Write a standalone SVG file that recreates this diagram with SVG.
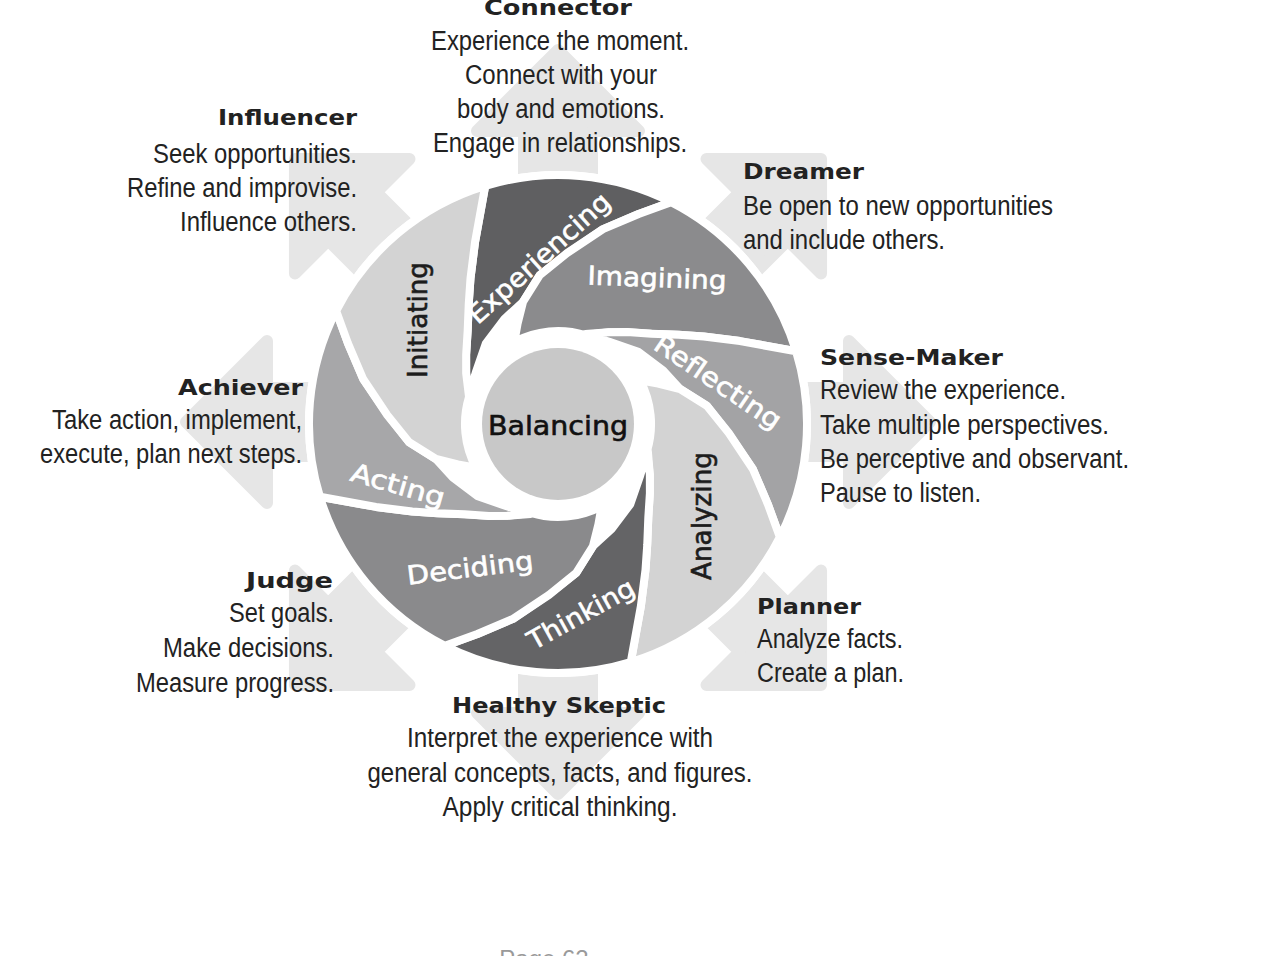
<svg xmlns="http://www.w3.org/2000/svg" xmlns:xlink="http://www.w3.org/1999/xlink" width="1286" height="956" viewBox="0 0 1286 956">
<style>
.arrow{fill:#e6e6e6;stroke:#e6e6e6;stroke-width:12;stroke-linejoin:round}
.blade{stroke:#ffffff;stroke-width:8;stroke-linejoin:round}
.bl{font-family:"DejaVu Sans","Liberation Sans",sans-serif;font-size:26px;text-anchor:middle;stroke-width:0.6}
.w{fill:#ffffff;stroke:#ffffff}
.d{fill:#1c1c1c;stroke:#1c1c1c}
.head{font-family:"DejaVu Sans","Liberation Sans",sans-serif;font-weight:bold;font-size:22px;fill:#222222}
.body{font-family:"Liberation Sans Narrow","Liberation Sans",Arial,sans-serif;font-size:27px;fill:#222222}
.m{text-anchor:middle}
.e{text-anchor:end}
.s{text-anchor:start}
</style>
<defs>
<path id="arrowShape" d="M0,-34 L291,-34 L291,-81 L372,0 L291,81 L291,34 L0,34 Z"/>
<path id="bladeA" d="M94,0 L102.7,21.8 L108.1,39.3 L113.7,63 L120.6,89.2 L126.3,113.8 L132.5,149.8 L139.2,206.4 A249,249 0 0 1 -43.3,245.3 L-15.7,224.4 L13.9,199.5 L40.6,166 L61,137 L69.2,106.5 L82,84.9 L92.6,55.6 L93.7,25.1 L93.6,8.2 Z"/>
<path id="bladeB" d="M93,0 L107.4,11.3 L124.2,26.4 L140,53.8 L146.6,88.1 L150.9,131.2 L147.6,169.8 L142.8,204 A249,249 0 0 1 -47.5,244.4 L-12.2,199.6 L8.8,169.8 L22.2,148.3 L35.9,124.9 L48.6,104.2 L57.2,88 L65.8,65.8 A93,93 0 0 0 93,0 Z"/>
</defs>
<rect width="1286" height="956" fill="#ffffff"/>
<g id="arrows">
<use xlink:href="#arrowShape" class="arrow" transform="translate(558,422) rotate(0)"/>
<use xlink:href="#arrowShape" class="arrow" transform="translate(558,422) rotate(45)"/>
<use xlink:href="#arrowShape" class="arrow" transform="translate(558,422) rotate(90)"/>
<use xlink:href="#arrowShape" class="arrow" transform="translate(558,422) rotate(135)"/>
<use xlink:href="#arrowShape" class="arrow" transform="translate(558,422) rotate(180)"/>
<use xlink:href="#arrowShape" class="arrow" transform="translate(558,422) rotate(225)"/>
<use xlink:href="#arrowShape" class="arrow" transform="translate(558,422) rotate(270)"/>
<use xlink:href="#arrowShape" class="arrow" transform="translate(558,422) rotate(315)"/>
</g>
<circle cx="558" cy="424" r="253" fill="#ffffff"/>
<g id="node-experiencing">
<use xlink:href="#bladeA" class="blade" fill="#5f5f61" transform="translate(558,424) rotate(197)"/>
<text class="bl w" transform="translate(539,258) rotate(-42)" y="9" textLength="181" lengthAdjust="spacingAndGlyphs">Experiencing</text>
</g>
<g id="node-imagining">
<use xlink:href="#bladeB" class="blade" fill="#8b8b8d" transform="translate(558,424) rotate(242)"/>
<text class="bl w" transform="translate(657,278) rotate(2)" y="9" textLength="139" lengthAdjust="spacingAndGlyphs">Imagining</text>
</g>
<g id="node-reflecting">
<use xlink:href="#bladeA" class="blade" fill="#a3a3a5" transform="translate(558,424) rotate(287)"/>
<text class="bl w" transform="translate(718,382) rotate(34)" y="9" textLength="147" lengthAdjust="spacingAndGlyphs">Reflecting</text>
</g>
<g id="node-analyzing">
<use xlink:href="#bladeB" class="blade" fill="#d3d3d3" transform="translate(558,424) rotate(332)"/>
<text class="bl d" transform="translate(702,516) rotate(-90)" y="9" textLength="128" lengthAdjust="spacingAndGlyphs">Analyzing</text>
</g>
<g id="node-thinking">
<use xlink:href="#bladeA" class="blade" fill="#646466" transform="translate(558,424) rotate(17)"/>
<text class="bl w" transform="translate(581,614) rotate(-29)" y="9" textLength="118" lengthAdjust="spacingAndGlyphs">Thinking</text>
</g>
<g id="node-deciding">
<use xlink:href="#bladeB" class="blade" fill="#8a8a8c" transform="translate(558,424) rotate(62)"/>
<text class="bl w" transform="translate(470,568) rotate(-7)" y="9" textLength="127" lengthAdjust="spacingAndGlyphs">Deciding</text>
</g>
<g id="node-acting">
<use xlink:href="#bladeA" class="blade" fill="#a7a7a9" transform="translate(558,424) rotate(107)"/>
<text class="bl w" transform="translate(398,485) rotate(16)" y="9" textLength="97" lengthAdjust="spacingAndGlyphs">Acting</text>
</g>
<g id="node-initiating">
<use xlink:href="#bladeB" class="blade" fill="#d3d3d3" transform="translate(558,424) rotate(152)"/>
<text class="bl d" transform="translate(418,320) rotate(-90)" y="9" textLength="116" lengthAdjust="spacingAndGlyphs">Initiating</text>
</g>
<g id="node-balancing">
<circle cx="558" cy="424" r="76" fill="#c8c8c8"/>
<text class="bl" x="558" y="435" fill="#111111" stroke="#111111" stroke-width="0.9" textLength="140" lengthAdjust="spacingAndGlyphs">Balancing</text>
</g>
<g id="node-connector">
<text class="head m" x="558" y="15" textLength="148" lengthAdjust="spacingAndGlyphs">Connector</text>
<text class="body m" x="560" y="50" textLength="258" lengthAdjust="spacingAndGlyphs">Experience the moment.</text>
<text class="body m" x="561" y="84" textLength="192" lengthAdjust="spacingAndGlyphs">Connect with your</text>
<text class="body m" x="561" y="118" textLength="208" lengthAdjust="spacingAndGlyphs">body and emotions.</text>
<text class="body m" x="560" y="152" textLength="254" lengthAdjust="spacingAndGlyphs">Engage in relationships.</text>
</g>
<g id="node-influencer">
<text class="head e" x="357" y="125" textLength="139" lengthAdjust="spacingAndGlyphs">Influencer</text>
<text class="body e" x="357" y="163" textLength="204" lengthAdjust="spacingAndGlyphs">Seek opportunities.</text>
<text class="body e" x="357" y="197" textLength="230" lengthAdjust="spacingAndGlyphs">Refine and improvise.</text>
<text class="body e" x="357" y="231" textLength="177" lengthAdjust="spacingAndGlyphs">Influence others.</text>
</g>
<g id="node-dreamer">
<text class="head s" x="743" y="179" textLength="121" lengthAdjust="spacingAndGlyphs">Dreamer</text>
<text class="body s" x="743" y="215" textLength="310" lengthAdjust="spacingAndGlyphs">Be open to new opportunities</text>
<text class="body s" x="743" y="249" textLength="202" lengthAdjust="spacingAndGlyphs">and include others.</text>
</g>
<g id="node-sensemaker">
<text class="head s" x="820" y="365" textLength="183" lengthAdjust="spacingAndGlyphs">Sense-Maker</text>
<text class="body s" x="820" y="399" textLength="246" lengthAdjust="spacingAndGlyphs">Review the experience.</text>
<text class="body s" x="820" y="434" textLength="289" lengthAdjust="spacingAndGlyphs">Take multiple perspectives.</text>
<text class="body s" x="820" y="468" textLength="309" lengthAdjust="spacingAndGlyphs">Be perceptive and observant.</text>
<text class="body s" x="820" y="502" textLength="161" lengthAdjust="spacingAndGlyphs">Pause to listen.</text>
</g>
<g id="node-achiever">
<text class="head e" x="303" y="395" textLength="125" lengthAdjust="spacingAndGlyphs">Achiever</text>
<text class="body e" x="302" y="429" textLength="250" lengthAdjust="spacingAndGlyphs">Take action, implement,</text>
<text class="body e" x="302" y="463" textLength="262" lengthAdjust="spacingAndGlyphs">execute, plan next steps.</text>
</g>
<g id="node-judge">
<text class="head e" x="333" y="588" textLength="87" lengthAdjust="spacingAndGlyphs">Judge</text>
<text class="body e" x="334" y="622" textLength="105" lengthAdjust="spacingAndGlyphs">Set goals.</text>
<text class="body e" x="334" y="657" textLength="171" lengthAdjust="spacingAndGlyphs">Make decisions.</text>
<text class="body e" x="334" y="692" textLength="198" lengthAdjust="spacingAndGlyphs">Measure progress.</text>
</g>
<g id="node-planner">
<text class="head s" x="757" y="614" textLength="104" lengthAdjust="spacingAndGlyphs">Planner</text>
<text class="body s" x="757" y="648" textLength="146" lengthAdjust="spacingAndGlyphs">Analyze facts.</text>
<text class="body s" x="757" y="682" textLength="147" lengthAdjust="spacingAndGlyphs">Create a plan.</text>
</g>
<g id="node-skeptic">
<text class="head m" x="559" y="713" textLength="214" lengthAdjust="spacingAndGlyphs">Healthy Skeptic</text>
<text class="body m" x="560" y="747" textLength="306" lengthAdjust="spacingAndGlyphs">Interpret the experience with</text>
<text class="body m" x="560" y="782" textLength="385" lengthAdjust="spacingAndGlyphs">general concepts, facts, and figures.</text>
<text class="body m" x="560" y="816" textLength="235" lengthAdjust="spacingAndGlyphs">Apply critical thinking.</text>
</g>
<text x="544" y="967" font-family="Liberation Sans, Arial, sans-serif" font-size="24" fill="#9a9a9a" text-anchor="middle">Page 62</text>
</svg>
